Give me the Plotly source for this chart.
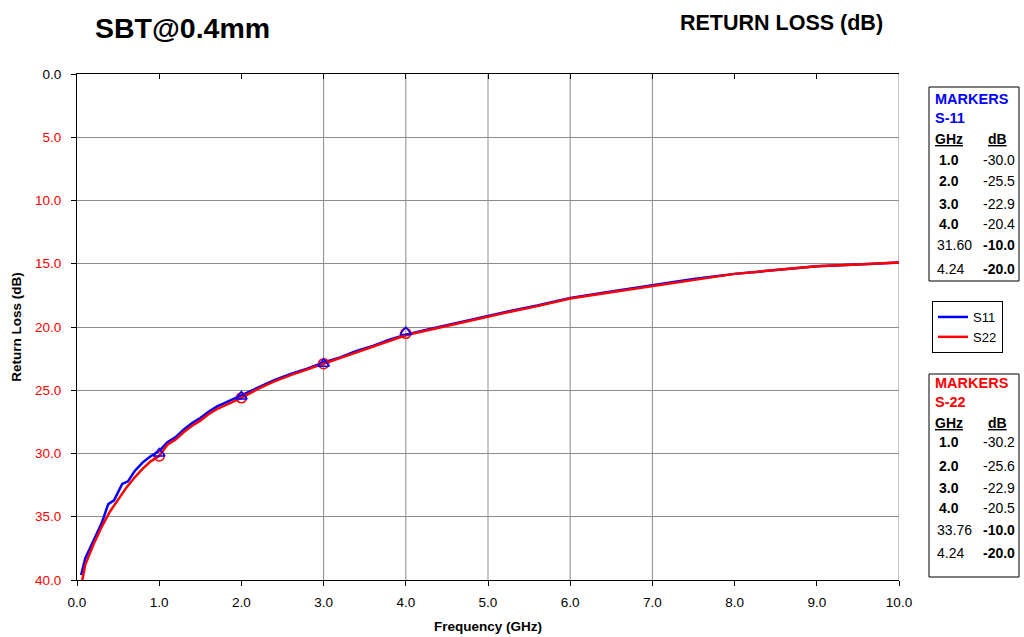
import plotly.graph_objects as go

# ---- data ----
freq_s11 = [0.05, 0.1, 0.2, 0.3, 0.38, 0.45, 0.55, 0.62, 0.7, 0.8, 0.9, 1.0, 1.1, 1.2, 1.3, 1.4, 1.5,
            1.6, 1.7, 1.8, 1.9, 2.0, 2.2, 2.4, 2.6, 2.8, 3.0, 3.2, 3.4, 3.6, 3.8, 4.0, 4.2, 4.4, 4.6,
            4.8, 5.0, 5.3, 5.6, 6.0, 6.5, 7.0, 7.5, 8.0, 8.5, 9.0, 9.5, 10.0]
rl_s11 = [39.6, 38.3, 36.9, 35.5, 34.0, 33.7, 32.4, 32.2, 31.4, 30.7, 30.2, 29.8, 29.1, 28.7, 28.1,
          27.6, 27.2, 26.7, 26.3, 26.0, 25.7, 25.4, 24.8, 24.2, 23.7, 23.3, 22.8, 22.4, 21.9, 21.5,
          21.0, 20.6, 20.3, 20.0, 19.7, 19.4, 19.1, 18.7, 18.3, 17.7, 17.2, 16.7, 16.2, 15.8, 15.5,
          15.2, 15.05, 14.9]
freq_s22 = [0.05, 0.1, 0.2, 0.3, 0.4, 0.5, 0.6, 0.7, 0.8, 0.9, 1.0, 1.1, 1.2, 1.3, 1.4, 1.5, 1.6,
            1.7, 1.8, 1.9, 2.0, 2.2, 2.4, 2.6, 2.8, 3.0, 3.2, 3.4, 3.6, 3.8, 4.0, 4.2, 4.4, 4.6, 4.8,
            5.0, 5.3, 5.6, 6.0, 6.5, 7.0, 7.5, 8.0, 8.5, 9.0, 9.5, 10.0]
rl_s22 = [40.5, 38.8, 37.2, 35.8, 34.6, 33.6, 32.7, 31.9, 31.2, 30.6, 30.2, 29.3, 28.9, 28.3, 27.8,
          27.4, 26.9, 26.5, 26.2, 25.9, 25.6, 24.9, 24.3, 23.8, 23.35, 22.9, 22.45, 21.95, 21.55,
          21.05, 20.65, 20.35, 20.05, 19.75, 19.45, 19.15, 18.75, 18.35, 17.75, 17.25, 16.75,
          16.25, 15.8, 15.5, 15.2, 15.05, 14.9]

mk_freq = [1.0, 2.0, 3.0, 4.0]
mk_s11 = [30.0, 25.5, 22.9, 20.4]
mk_s22 = [30.2, 25.6, 22.9, 20.5]

s11_table = [("1.0", "-30.0", True), ("2.0", "-25.5", True), ("3.0", "-22.9", True),
             ("4.0", "-20.4", True), ("31.60", "-10.0", False), ("4.24", "-20.0", False)]
s22_table = [("1.0", "-30.2", True), ("2.0", "-25.6", True), ("3.0", "-22.9", True),
             ("4.0", "-20.5", True), ("33.76", "-10.0", False), ("4.24", "-20.0", False)]

y_ticks = [0, 5, 10, 15, 20, 25, 30, 35, 40]
x_ticks = [0, 1, 2, 3, 4, 5, 6, 7, 8, 9, 10]
x_grid = [3, 4, 5, 6, 7, 10]

FONT = "Arial, Liberation Sans, sans-serif"
L, R, T, B = 77, 125, 74, 57
W, H = 1024, 637
PW, PH = W - L - R, H - T - B

def px(xp):
    return (xp - L) / PW

def py(yp):
    return (H - B - yp) / PH

fig = go.Figure()
fig.add_trace(go.Scatter(x=freq_s11, y=rl_s11, mode="lines", name="S11",
                         line=dict(color="#0000FF", width=2.5)))
fig.add_trace(go.Scatter(x=freq_s22, y=rl_s22, mode="lines", name="S22",
                         line=dict(color="#FF0000", width=2.5)))
fig.add_trace(go.Scatter(x=mk_freq, y=mk_s22, mode="markers", showlegend=False,
                         marker=dict(symbol="circle-open", size=10, color="#FF0000",
                                     line=dict(width=1.5))))
fig.add_trace(go.Scatter(x=mk_freq, y=mk_s11, mode="markers", showlegend=False,
                         marker=dict(symbol="triangle-up-open", size=10, color="#0000FF",
                                     line=dict(width=1.5))))
# invisible trace on the top axis (inside tick marks)
fig.add_trace(go.Scatter(x=[0, 10], y=[0, 0], xaxis="x2", mode="lines", showlegend=False,
                         line=dict(width=0), hoverinfo="skip"))

ytext = []
for v in y_ticks:
    t = f"{v:.1f}"
    ytext.append(f"<span style='color:black'>{t}</span>" if v == 0 else t)

fig.update_layout(
    width=W, height=H,
    margin=dict(l=L, r=R, t=T, b=B),
    paper_bgcolor="white", plot_bgcolor="white",
    font=dict(family=FONT, size=13, color="black"),
    xaxis=dict(range=[0, 10], tickvals=x_ticks, ticktext=[f"{v:.1f}" for v in x_ticks],
               showgrid=False, zeroline=False, showline=True, linecolor="black", linewidth=1,
               ticks="outside", ticklen=5, tickcolor="black", ticklabelstandoff=5,
               tickfont=dict(size=13.5, color="black"), automargin=False,
               title=dict(text="<b>Frequency (GHz)</b>", font=dict(size=13.5), standoff=12)),
    xaxis2=dict(range=[0, 10], overlaying="x", side="top", anchor="y", tickvals=x_ticks,
                showticklabels=False, ticks="inside", ticklen=5, tickcolor="black",
                showgrid=False, zeroline=False, showline=True, linecolor="black",
                automargin=False),
    yaxis=dict(range=[40, 0], tickvals=y_ticks, ticktext=ytext,
               showgrid=True, gridcolor="#8c8c8c", gridwidth=1, zeroline=False,
               showline=True, linecolor="black", linewidth=1,
               ticks="outside", ticklen=5, tickcolor="black", ticklabelstandoff=7,
               tickfont=dict(size=13.5, color="#FF0000"), automargin=False,
               title=dict(text="<b>Return Loss (dB)</b>", font=dict(size=13.5), standoff=10)),
    legend=dict(x=px(932), y=py(301), xanchor="left", yanchor="top",
                bordercolor="black", borderwidth=1, bgcolor="white",
                font=dict(size=13), tracegroupgap=0, itemwidth=30),
    showlegend=True,
)

shapes = []
for g in x_grid:
    shapes.append(dict(type="line", xref="x", yref="paper", x0=g, x1=g, y0=0, y1=1,
                       line=dict(color="#8c8c8c", width=1), layer="below"))
# marker table boxes
shapes.append(dict(type="rect", xref="paper", yref="paper", x0=px(929), x1=px(1019),
                   y0=py(281), y1=py(87), line=dict(color="black", width=1)))
shapes.append(dict(type="rect", xref="paper", yref="paper", x0=px(929), x1=px(1019),
                   y0=py(577), y1=py(374), line=dict(color="black", width=1)))
fig.update_layout(shapes=shapes)

ann = []
ann.append(dict(text="<b>SBT@0.4mm</b>", x=px(93), y=py(28), xref="paper", yref="paper",
                xanchor="left", yanchor="middle", showarrow=False,
                font=dict(size=28.5, color="black", family=FONT)))
ann.append(dict(text="<b>RETURN LOSS (dB)</b>", x=px(781), y=py(23), xref="paper", yref="paper",
                xanchor="center", yanchor="middle", showarrow=False,
                font=dict(size=21.5, color="black", family=FONT)))

def table(y0, color, label, rows, rows_y):
    out = []
    out.append(dict(text="<b>MARKERS</b>", x=px(933), y=py(y0), xanchor="left"))
    out.append(dict(text=f"<b>{label}</b>", x=px(933), y=py(y0 + 19), xanchor="left"))
    out_c = [dict(a, font=dict(size=14.5, color=color, family=FONT)) for a in out]
    out_c.append(dict(text="<b><u>GHz</u></b>", x=px(933), y=py(y0 + 40), xanchor="left",
                      font=dict(size=14, color="black", family=FONT)))
    out_c.append(dict(text="<b><u>dB</u></b>", x=px(986), y=py(y0 + 40), xanchor="left",
                      font=dict(size=14, color="black", family=FONT)))
    for (f, d, bold_f), yy in zip(rows, rows_y):
        ft = f"<b>{f}</b>" if bold_f else f
        dt = d if bold_f else f"<b>{d}</b>"
        xf = 937 if bold_f else 935
        out_c.append(dict(text=ft, x=px(xf), y=py(yy), xanchor="left",
                          font=dict(size=14, color="black", family=FONT)))
        out_c.append(dict(text=dt, x=px(1017), y=py(yy), xanchor="right",
                          font=dict(size=14, color="black", family=FONT)))
    for a in out_c:
        a.update(xref="paper", yref="paper", yanchor="middle", showarrow=False)
    return out_c

ann += table(99, "#0000FF", "S-11", s11_table, [160, 181, 204, 224, 245, 269])
ann += table(383, "#FF0000", "S-22", s22_table, [442, 466, 488, 508, 530, 553])
fig.update_layout(annotations=ann)

fig.write_html("out.html")
